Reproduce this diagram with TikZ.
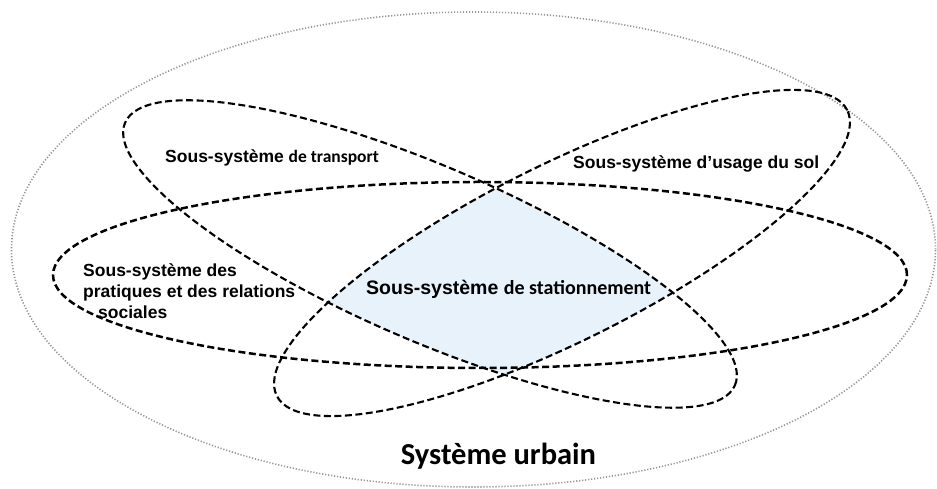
\documentclass[tikz,border=0pt]{standalone}
\usepackage{fontspec}
\setmainfont{Liberation Sans}
\newfontfamily\calibri{Carlito}
\usepackage{tikz}
\definecolor{lensblue}{RGB}{232,242,251}
\definecolor{rimgray}{RGB}{150,150,150}

\begin{document}
\begin{tikzpicture}[x=1pt, y=1pt,
  subsys/.style={draw=black, line width=2.1pt, dash pattern=on 7pt off 3.5pt},
  rim/.style={draw=rimgray, line width=1.6pt, dash pattern=on 1.2pt off 1.8pt},
  lbl/.style={inner sep=0pt, font=\fontsize{17.5}{21}\selectfont\bfseries}]
\useasboundingbox (0,0) rectangle (937,489);
% shaded intersection of the two tilted sub-systems
\begin{scope}
\clip[rotate around={-23.3:(430,235)}] (430,235) ellipse [x radius=332pt, y radius=87pt];
\fill[lensblue, rotate around={26.6:(562,236)}] (562,236) ellipse [x radius=319pt, y radius=88pt];
\end{scope}
% urban system
\draw[rim] (473.5,239.5) ellipse [x radius=462pt, y radius=237.5pt];
% sub-systems
\draw[subsys, line width=2.5pt] (480,214) ellipse [x radius=427pt, y radius=93pt];
\draw[subsys, rotate around={-23.3:(430,235)}] (430,235) ellipse [x radius=332pt, y radius=87pt];
\draw[subsys, rotate around={26.6:(562,236)}] (562,236) ellipse [x radius=319pt, y radius=88pt];
% labels
\node[lbl, anchor=base west] (transport) at (165,326) {Sous-système {\calibri de transport}};
\node[lbl, anchor=base west] (sol) at (573,320) {Sous-système d’usage du sol};
\node[lbl, anchor=north west, align=left] (pratiques) at (83,226)
  {Sous-système des\\pratiques et des relations\\\hspace{15pt}sociales};
\node[lbl, anchor=base west, font=\fontsize{19.5}{22}\selectfont\bfseries] (station) at (366,194)
  {Sous-système {\calibri\fontsize{20}{22}\selectfont de stationnement}};
\node[inner sep=0pt, anchor=base, font=\calibri\fontsize{30.5}{34}\selectfont\bfseries] (urbain) at (498.5,24) {Système urbain};
\end{tikzpicture}
\end{document}
